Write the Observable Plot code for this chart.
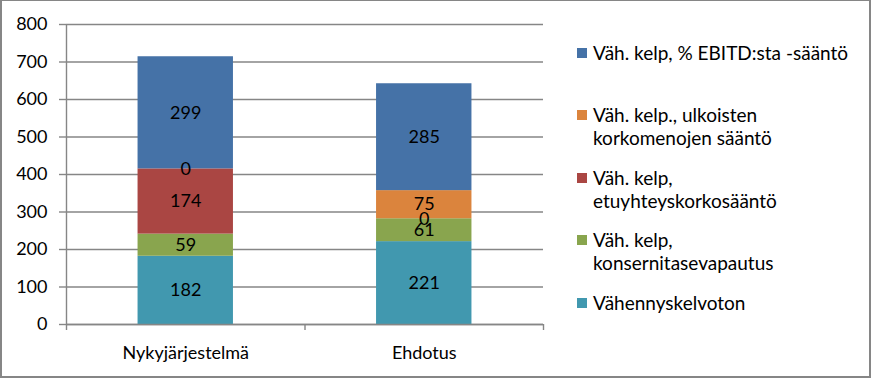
<!DOCTYPE html>
<html>
<head>
<meta charset="utf-8">
<script src="https://cdn.jsdelivr.net/npm/d3@7"></script>
<script src="https://cdn.jsdelivr.net/npm/@observablehq/plot@0.6"></script>
<style>
  html, body { margin: 0; padding: 0; background: #fff; }
  #wrap { position: relative; width: 871px; height: 378px; overflow: hidden; font-family: Lato, sans-serif; }
  #border { position: absolute; left: 0; top: 0; width: 871px; height: 378px; box-sizing: border-box;
            border: 2px solid #868686; border-top-width: 1px; pointer-events: none; }
  #chart { position: absolute; left: 0; top: 0; }
  #legend { position: absolute; left: 577px; top: 0; width: 290px; }
  .item { position: absolute; left: 0; font-size: 19px; line-height: 23px; color: #000; white-space: nowrap; }
  .sw { position: absolute; left: 0; top: 7px; width: 10px; height: 10px; }
  .lbl { position: absolute; left: 16px; top: 0; }
</style>
</head>
<body>
<div id="wrap">
  <div id="chart"></div>
  <div id="legend"></div>
  <div id="border"></div>
</div>
<script>
// ---- data ----
const categories = ["Nykyjärjestelmä", "Ehdotus"];
const seriesNames = [
  "Vähennyskelvoton",
  "Väh. kelp, konsernitasevapautus",
  "Väh. kelp, etuyhteyskorkosääntö",
  "Väh. kelp., ulkoisten korkomenojen sääntö",
  "Väh. kelp, % EBITD:sta -sääntö"
];
const vahennyskelvoton   = [182, 221];
const konsernitase       = [59, 61];
const etuyhteys          = [174, 0];
const ulkoisten          = [0, 75];
const ebitd              = [299, 285];
const seriesColors = ["#4198AF", "#89A54E", "#AA4643", "#DB843D", "#4572A7"];
const yTicks = [0, 100, 200, 300, 400, 500, 600, 700, 800];
// legend (top to bottom) with its line breaks
const legendOrder = [4, 3, 2, 1, 0];
const legendLines = {
  4: ["Väh. kelp, % EBITD:sta -sääntö"],
  3: ["Väh. kelp., ulkoisten", "korkomenojen sääntö"],
  2: ["Väh. kelp,", "etuyhteyskorkosääntö"],
  1: ["Väh. kelp,", "konsernitasevapautus"],
  0: ["Vähennyskelvoton"]
};

const seriesValues = [vahennyskelvoton, konsernitase, etuyhteys, ulkoisten, ebitd];
const rows = [];
categories.forEach((c, ci) => {
  seriesNames.forEach((s, si) => {
    rows.push({category: c, ci, series: s, value: seriesValues[si][ci]});
  });
});

const grid = "#868686";
const fs = 18;
const chart = Plot.plot({
  width: 871,
  height: 378,
  marginLeft: 66,
  marginRight: 328,
  marginTop: 24,
  marginBottom: 54,
  style: {fontFamily: "Lato, sans-serif", fontSize: fs + "px", background: "transparent"},
  x: {domain: [0, categories.length], axis: null},
  y: {domain: [0, 800], axis: null},
  color: {domain: seriesNames, range: seriesColors},
  marks: [
    Plot.ruleY(yTicks, {stroke: grid, strokeWidth: 1.4}),
    Plot.axisY({ticks: yTicks, tickSize: 7, tickPadding: 12, label: null, stroke: grid, strokeWidth: 1.4, fill: "#000", fontSize: fs, tickFormat: d => String(d)}),
    Plot.rectY(rows, Plot.stackY({
      x1: d => d.ci + 0.3,
      x2: d => d.ci + 0.7,
      y: "value",
      fill: "series"
    })),
    Plot.text(rows, Plot.stackY({
      x1: d => d.ci + 0.5,
      y: "value",
      text: d => String(d.value),
      fill: "#000",
      fontSize: fs
    })),
    Plot.ruleY([0], {stroke: grid, strokeWidth: 1.4}),
    Plot.ruleX([0], {stroke: grid, strokeWidth: 1.4}),
    Plot.axisX({ticks: d3.range(categories.length + 1), tickSize: 6, tickFormat: () => "", label: null, stroke: grid, strokeWidth: 1.4}),
    Plot.text(categories, {x: (d, i) => i + 0.5, y: 0, text: d => d, dy: 29, fill: "#000", fontSize: fs})
  ]
});
document.getElementById("chart").appendChild(chart);

// legend
const legend = document.getElementById("legend");
legendOrder.forEach((si, k) => {
  const item = document.createElement("div");
  item.className = "item";
  item.style.top = (40.5 + k * 62.5) + "px";
  const sw = document.createElement("div");
  sw.className = "sw";
  sw.style.background = seriesColors[si];
  const lbl = document.createElement("div");
  lbl.className = "lbl";
  lbl.innerHTML = legendLines[si].join("<br>");
  item.appendChild(sw);
  item.appendChild(lbl);
  legend.appendChild(item);
});
</script>
</body>
</html>
